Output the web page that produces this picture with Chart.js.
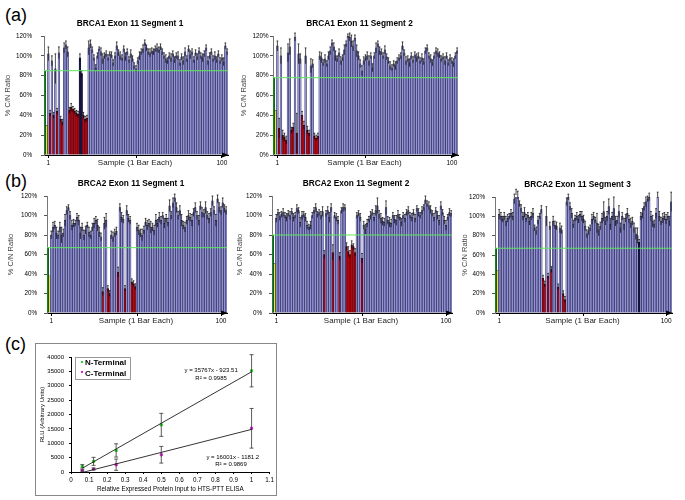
<!DOCTYPE html>
<html>
<head>
<meta charset="utf-8">
<script src="https://cdn.jsdelivr.net/npm/chart.js@4.4.0/dist/chart.umd.min.js"></script>
<style>
  body { margin: 0; background: #fff; width: 685px; height: 500px; position: relative; overflow: hidden;
         font-family: "Liberation Sans", Arial, sans-serif; }
  canvas { position: absolute; }
  .tag { position: absolute; font-size: 18px; line-height: 18px; color: #000; }
  #frameC { position: absolute; left: 35px; top: 343px; width: 240px; height: 151px; border: 1px solid #888; }
  #legendC { position: absolute; left: 75px; top: 357px; width: 54px; height: 21px; border: 1px solid #999;
             font-weight: bold; font-size: 8px; line-height: 10.5px; }
  #legendC .mk { display: inline-block; width: 2px; height: 2px; margin: 0 2px 2px 5px; vertical-align: middle; }
</style>
</head>
<body>
<div class="tag" style="left:5px;top:6px">(a)</div>
<div class="tag" style="left:5px;top:172px">(b)</div>
<div class="tag" style="left:5px;top:335px">(c)</div>

<canvas id="a1" width="232" height="160" style="left:0px;top:12px"></canvas>
<canvas id="a2" width="234" height="160" style="left:228px;top:12px"></canvas>
<canvas id="b1" width="229" height="158" style="left:2px;top:172px"></canvas>
<canvas id="b2" width="229" height="158" style="left:227px;top:172px"></canvas>
<canvas id="b3" width="226" height="157" style="left:450px;top:173px"></canvas>

<div id="frameC"></div>
<canvas id="c" width="240" height="151" style="left:36px;top:344px"></canvas>
<div id="legendC"></div>

<script>
// ---- panel (a)/(b) data: % C/N ratio per sample, samples 1..103 ----
const panelTitles = ['BRCA1 Exon 11 Segment 1', 'BRCA1 Exon 11 Segment 2',
                     'BRCA2 Exon 11 Segment 1', 'BRCA2 Exon 11 Segment 2', 'BRCA2 Exon 11 Segment 3'];
const wtControl = [85, 78, 67, 80, 67];    // green control bar, also the cut-off line
const mutControl = [30, 45, 38, 51, 44];   // yellow control bar

const a1Values = [
  102, 42, 95, 40, 87, 44, 103, 36, 33, 108,
  111, 104, 45, 48, 46, 44, 42, 41, 98, 82,
  40, 36, 37, 108, 112, 106, 98, 88, 100, 107,
  104, 97, 100, 102, 98, 102, 101, 93, 100, 110,
  103, 100, 98, 107, 99, 104, 96, 102, 97, 90,
  87, 95, 100, 104, 107, 113, 108, 104, 103, 105,
  104, 107, 108, 106, 109, 104, 100, 97, 95, 100,
  98, 102, 96, 100, 100, 93, 99, 95, 104, 97,
  107, 101, 104, 96, 103, 99, 105, 100, 98, 102,
  108, 95, 100, 104, 97, 100, 96, 102, 95, 98,
  94, 110, 104];
const a1Errors = [
  7, 3, 5, 3, 15, 3, 6, 3, 3, 5,
  4, 5, 3, 4, 3, 3, 3, 3, 4, 3,
  3, 3, 3, 7, 4, 3, 3, 3, 3, 2,
  4, 5, 3, 3, 3, 2, 3, 3, 3, 4,
  3, 4, 3, 3, 4, 3, 3, 4, 3, 3,
  3, 3, 4, 3, 4, 3, 3, 3, 4, 3,
  3, 3, 4, 3, 3, 3, 3, 4, 3, 3,
  4, 3, 3, 3, 4, 3, 3, 4, 4, 3,
  3, 4, 3, 3, 3, 3, 3, 3, 4, 3,
  3, 4, 3, 3, 3, 4, 3, 3, 3, 3,
  4, 3, 3];
const a1Truncated = [2, 4, 6, 8, 9, 13, 14, 15, 16, 17, 18, 21, 22, 23];
const a1Dark = [19, 20];

const a2Values = [
  110, 27, 100, 20, 18, 15, 103, 109, 25, 28,
  119, 22, 102, 97, 40, 30, 100, 25, 22, 90,
  92, 19, 17, 19, 100, 98, 93, 97, 92, 100,
  105, 113, 109, 100, 97, 103, 95, 98, 106, 112,
  120, 119, 115, 110, 118, 105, 100, 92, 85, 95,
  98, 100, 95, 100, 88, 100, 108, 112, 105, 104,
  100, 106, 99, 95, 90, 88, 92, 90, 95, 98,
  100, 110, 103, 95, 97, 93, 100, 96, 101, 98,
  100, 95, 98, 94, 105, 108, 100, 97, 93, 100,
  105, 103, 101, 97, 99, 95, 100, 93, 98, 95,
  93, 100, 105];
const a2Errors = [
  5, 10, 8, 5, 4, 4, 9, 8, 3, 4,
  4, 20, 10, 5, 4, 4, 8, 4, 3, 7,
  4, 3, 3, 3, 4, 5, 3, 4, 3, 4,
  4, 3, 4, 5, 3, 4, 4, 3, 5, 3,
  2, 4, 6, 5, 3, 6, 4, 4, 5, 4,
  3, 4, 5, 3, 4, 3, 5, 3, 4, 3,
  3, 4, 3, 3, 4, 3, 3, 4, 3, 3,
  3, 4, 3, 4, 3, 4, 3, 3, 3, 4,
  3, 3, 4, 3, 3, 3, 3, 4, 3, 3,
  3, 4, 3, 3, 3, 4, 3, 3, 3, 3,
  4, 3, 3];
const a2Truncated = [2, 4, 5, 6, 9, 10, 12, 15, 16, 18, 19, 22, 23, 24];
const a2Dark = [];

const b1Values = [
  80, 88, 90, 82, 80, 88, 80, 82, 95, 105,
  108, 100, 90, 92, 92, 98, 95, 82, 88, 80,
  85, 90, 83, 80, 88, 92, 95, 90, 83, 78,
  22, 92, 95, 25, 20, 80, 78, 82, 84, 42,
  108, 98, 96, 25, 105, 97, 95, 32, 30, 27,
  88, 85, 82, 80, 85, 93, 90, 92, 88, 88,
  85, 95, 92, 98, 95, 100, 92, 97, 93, 110,
  100, 113, 118, 108, 100, 105, 95, 90, 88, 95,
  100, 98, 95, 103, 108, 100, 95, 110, 103, 102,
  108, 100, 97, 103, 115, 105, 95, 117, 108, 105,
  113, 107, 105];
const b1Errors = [
  4, 5, 4, 6, 4, 5, 8, 4, 6, 4,
  3, 4, 5, 4, 3, 4, 5, 6, 4, 5,
  4, 3, 5, 4, 4, 5, 4, 6, 5, 4,
  4, 6, 7, 3, 3, 4, 5, 4, 4, 5,
  4, 5, 4, 3, 5, 4, 4, 3, 3, 3,
  4, 5, 4, 6, 4, 4, 5, 4, 6, 4,
  5, 6, 4, 5, 4, 3, 5, 4, 4, 6,
  4, 5, 4, 5, 4, 5, 6, 4, 5, 4,
  5, 4, 6, 4, 5, 4, 5, 4, 5, 4,
  6, 4, 5, 4, 5, 4, 6, 4, 5, 4,
  5, 4, 4];
const b1Truncated = [31, 34, 35, 40, 44, 48, 49, 50];
const b1Dark = [];

const b2Values = [
  97, 103, 99, 101, 103, 100, 98, 102, 100, 104,
  98, 100, 107, 105, 93, 100, 101, 98, 90, 88,
  90, 100, 105, 108, 101, 103, 100, 104, 60, 102,
  105, 98, 108, 62, 100, 98, 95, 58, 105, 108,
  108, 68, 63, 60, 70, 68, 62, 100, 102, 98,
  56, 90, 86, 92, 96, 100, 103, 98, 105, 110,
  101, 97, 94, 93, 108, 95, 93, 92, 100, 96,
  95, 101, 98, 93, 100, 97, 103, 105, 100, 98,
  103, 97, 107, 103, 100, 105, 108, 116, 112, 110,
  106, 102, 98, 105, 100, 95, 110, 103, 95, 90,
  98, 103, 102];
const b2Errors = [
  4, 3, 4, 3, 4, 3, 4, 3, 4, 3,
  4, 3, 4, 3, 5, 4, 3, 4, 4, 3,
  4, 3, 3, 4, 3, 3, 4, 5, 4, 3,
  4, 5, 4, 8, 3, 4, 4, 4, 3, 4,
  3, 4, 5, 4, 4, 3, 4, 3, 3, 4,
  5, 4, 5, 4, 3, 4, 3, 4, 5, 8,
  4, 5, 4, 4, 7, 4, 5, 4, 3, 4,
  5, 4, 3, 4, 3, 4, 3, 4, 3, 4,
  3, 4, 3, 4, 3, 4, 3, 4, 3, 4,
  4, 3, 4, 3, 4, 5, 4, 3, 4, 5,
  3, 4, 3];
const b2Truncated = [29, 34, 38, 42, 43, 44, 45, 46, 47, 51];
const b2Dark = [];

const b3Values = [
  102, 100, 97, 100, 95, 98, 100, 103, 100, 118,
  125, 122, 113, 108, 100, 104, 98, 101, 95, 100,
  103, 88, 85, 96, 100, 107, 36, 30, 100, 38,
  90, 45, 95, 91, 90, 27, 88, 86, 20, 14,
  115, 120, 110, 103, 92, 98, 100, 97, 102, 100,
  97, 90, 82, 85, 88, 97, 100, 96, 93, 86,
  90, 98, 105, 95, 100, 110, 92, 100, 108, 95,
  96, 105, 88, 100, 92, 98, 103, 97, 93, 95,
  88, 82, 80, 73, 100, 103, 110, 115, 118, 120,
  100, 95, 92, 103, 122, 100, 95, 98, 100, 97,
  100, 95, 115];
const b3Errors = [
  5, 4, 3, 4, 5, 4, 3, 4, 4, 5,
  3, 4, 3, 4, 4, 5, 4, 3, 4, 4,
  5, 3, 4, 4, 3, 4, 3, 3, 10, 3,
  4, 3, 5, 4, 4, 3, 5, 4, 3, 3,
  4, 3, 4, 5, 4, 3, 4, 4, 3, 5,
  4, 5, 4, 4, 3, 5, 4, 3, 10, 6,
  4, 5, 10, 4, 5, 8, 6, 4, 12, 5,
  4, 6, 5, 4, 6, 4, 5, 4, 5, 4,
  5, 6, 8, 3, 4, 5, 4, 5, 3, 4,
  5, 6, 4, 5, 3, 5, 4, 5, 4, 5,
  4, 5, 10];
const b3Truncated = [27, 28, 30, 32, 36, 39, 40];
const b3Dark = [84];

// ---- panel (c) data ----
const seriesNames = ['N-Terminal', 'C-Terminal'];
const inputLevels = [0.0625, 0.125, 0.25, 0.5, 1];
const nTermRLU = [1960, 3700, 7500, 16400, 35200];
const nTermErr = [600, 1400, 2300, 4000, 5600];
const cTermRLU = [520, 1040, 2540, 6000, 15200];
const cTermErr = [250, 350, 1950, 2900, 6900];
const nFit = { slope: 35767, intercept: -923.51, r2: '0.9985' };
const cFit = { slope: 16001, intercept: -1181.2, r2: '0.9869' };

const FONT = '"Liberation Sans", Arial, sans-serif';
Chart.defaults.font.family = FONT;
Chart.defaults.color = '#000';

const BLUE = '#9393d6', RED = '#c80000', NAVY = '#15153e', GREEN = '#139c13', YELLOW = '#eeee10';
const N_COLOR = '#22dd22', C_COLOR = '#dd22dd';

// error bars, cut-off line, axis arrow, panel title and x caption
const panelDeco = {
  id: 'panelDeco',
  afterDatasetsDraw(chart, args, opts) {
    const { ctx, chartArea: a } = chart;
    const y = chart.scales.y;
    const ds = chart.data.datasets[0];
    const meta = chart.getDatasetMeta(0);
    ctx.save();
    ctx.strokeStyle = '#000';
    ctx.lineWidth = 0.7;
    meta.data.forEach((bar, i) => {
      const e = ds.errors[i];
      if (!e) return;
      const v = ds.data[i];
      const yt = y.getPixelForValue(v + e);
      const yb = y.getPixelForValue(Math.max(0, v - e));
      ctx.beginPath();
      ctx.moveTo(bar.x, yb); ctx.lineTo(bar.x, yt);
      ctx.moveTo(bar.x - 0.9, yt); ctx.lineTo(bar.x + 0.9, yt);
      ctx.stroke();
    });

    const ty = y.getPixelForValue(opts.threshold);
    ctx.strokeStyle = '#5fe85f';
    ctx.lineWidth = 1;
    ctx.beginPath(); ctx.moveTo(a.left, ty); ctx.lineTo(a.right, ty); ctx.stroke();

    ctx.fillStyle = '#000';
    ctx.beginPath();
    ctx.moveTo(a.right - 6, a.bottom - 2.5);
    ctx.lineTo(a.right + 1, a.bottom);
    ctx.lineTo(a.right - 6, a.bottom + 2.5);
    ctx.closePath(); ctx.fill();

    const cx = (a.left + a.right) / 2;
    ctx.textAlign = 'center';
    ctx.textBaseline = 'middle';
    ctx.font = 'bold 8.3px ' + FONT;
    ctx.fillText(opts.title, cx - 6, a.top - 12);
    ctx.font = '8px ' + FONT;
    ctx.fillStyle = '#222';
    ctx.fillText('Sample (1 Bar Each)', cx - 1, a.bottom + 8);
    ctx.restore();
  }
};

function barPanel(id, k, values, errors, truncated, dark, yw, tickPad, titlePad) {
  const data = [wtControl[k], mutControl[k]].concat(values);
  const errs = [0, 0].concat(errors);
  const labels = data.map((_, i) => i >= 2 ? String(i - 1) : '');
  const colors = data.map((_, i) => {
    if (i === 0) return GREEN;
    if (i === 1) return YELLOW;
    if (truncated.includes(i - 1)) return RED;
    if (dark.includes(i - 1)) return NAVY;
    return BLUE;
  });
  const marks = ['1', '51', '100'];

  new Chart(document.getElementById(id), {
    type: 'bar',
    data: {
      labels: labels,
      datasets: [{
        data: data,
        errors: errs,
        backgroundColor: colors,
        borderColor: '#16163c',
        borderWidth: 0.5,
        barPercentage: 1,
        categoryPercentage: 1
      }]
    },
    options: {
      responsive: false,
      animation: false,
      layout: { padding: { top: 24, right: 4, bottom: 0, left: 0 } },
      plugins: {
        legend: { display: false },
        tooltip: { enabled: false },
        panelDeco: { title: panelTitles[k], threshold: wtControl[k] }
      },
      scales: {
        x: {
          afterFit: s => { s.height = 17; },
          border: { color: '#000', width: 1 },
          grid: {
            drawOnChartArea: false, offset: false, tickLength: 3,
            color: c => (c.tick && marks.includes(labels[c.index])) ? '#000' : 'rgba(0,0,0,0)'
          },
          ticks: {
            autoSkip: false, maxRotation: 0, padding: 1, font: { size: 6.5 },
            callback: function (v) {
              const l = this.getLabelForValue(v);
              return (l === '1' || l === '100') ? l : '';
            }
          }
        },
        y: {
          min: 0, max: 120,
          afterFit: s => { s.width = yw; },
          border: { color: '#777', width: 1 },
          grid: { drawOnChartArea: false, tickLength: 3, color: '#555' },
          ticks: { stepSize: 20, padding: tickPad, font: { size: 6.3 }, callback: v => v + '%' },
          title: { display: true, text: '% C/N Ratio', color: '#444', font: { size: 7.5 },
                   padding: { top: titlePad, bottom: 0 } }
        }
      }
    },
    plugins: [panelDeco]
  });
}

barPanel('a1', 0, a1Values, a1Errors, a1Truncated, a1Dark, 44, 9, 3);
barPanel('a2', 1, a2Values, a2Errors, a2Truncated, a2Dark, 45, 1.5, 11.5);
barPanel('b1', 2, b1Values, b1Errors, b1Truncated, b1Dark, 45, 7, 4.5);
barPanel('b2', 3, b2Values, b2Errors, b2Truncated, b2Dark, 45, 7, 8.5);
barPanel('b3', 4, b3Values, b3Errors, b3Truncated, b3Dark, 45, 7, 10.5);

// ---- panel (c) ----
const cDeco = {
  id: 'cDeco',
  afterDatasetsDraw(chart) {
    const { ctx } = chart;
    const { x, y } = chart.scales;
    ctx.save();
    ctx.strokeStyle = '#333';
    ctx.lineWidth = 0.8;
    chart.data.datasets.forEach((ds) => {
      if (!ds.errors) return;
      ds.data.forEach((p, i) => {
        const px = x.getPixelForValue(p.x);
        const yt = y.getPixelForValue(p.y + ds.errors[i]);
        const yb = y.getPixelForValue(p.y - ds.errors[i]);
        ctx.beginPath();
        ctx.moveTo(px, yb); ctx.lineTo(px, yt);
        ctx.moveTo(px - 2, yt); ctx.lineTo(px + 2, yt);
        ctx.moveTo(px - 2, yb); ctx.lineTo(px + 2, yb);
        ctx.stroke();
      });
    });
    ctx.fillStyle = '#000';
    ctx.textAlign = 'center';
    ctx.textBaseline = 'middle';
    ctx.font = '6px ' + FONT;
    const eq = f => 'y = ' + f.slope + 'x - ' + Math.abs(f.intercept);
    ctx.fillText(eq(nFit), x.getPixelForValue(0.776), y.getPixelForValue(35500));
    ctx.fillText('R\u00b2 = ' + nFit.r2, x.getPixelForValue(0.776), y.getPixelForValue(32700));
    ctx.fillText(eq(cFit), x.getPixelForValue(0.896), y.getPixelForValue(5200));
    ctx.fillText('R\u00b2 = ' + cFit.r2, x.getPixelForValue(0.886), y.getPixelForValue(2700));
    ctx.restore();
  }
};

const fitLine = f => [inputLevels[0], inputLevels[inputLevels.length - 1]]
  .map(v => ({ x: v, y: f.slope * v + f.intercept }));

new Chart(document.getElementById('c'), {
  type: 'scatter',
  data: {
    datasets: [
      { type: 'line', data: fitLine(nFit), borderColor: '#000', borderWidth: 0.8, pointRadius: 0 },
      { type: 'line', data: fitLine(cFit), borderColor: '#000', borderWidth: 0.8, pointRadius: 0 },
      { label: seriesNames[0], data: inputLevels.map((v, i) => ({ x: v, y: nTermRLU[i] })), errors: nTermErr,
        pointStyle: 'rect', pointRadius: 1.5, backgroundColor: N_COLOR, borderColor: N_COLOR },
      { label: seriesNames[1], data: inputLevels.map((v, i) => ({ x: v, y: cTermRLU[i] })), errors: cTermErr,
        pointStyle: 'rect', pointRadius: 1.5, backgroundColor: C_COLOR, borderColor: C_COLOR }
    ]
  },
  options: {
    responsive: false,
    animation: false,
    layout: { padding: { top: 13, right: 5, bottom: 0, left: 0 } },
    plugins: { legend: { display: false }, tooltip: { enabled: false } },
    scales: {
      x: {
        type: 'linear', min: 0, max: 1.1,
        afterFit: s => { s.height = 23; },
        border: { color: '#000' },
        grid: { drawOnChartArea: false, tickLength: 2, color: '#000' },
        ticks: { stepSize: 0.1, padding: 2, font: { size: 6.3 }, maxRotation: 0, autoSkip: false,
                 callback: v => String(Math.round(v * 10) / 10) },
        title: { display: true, text: 'Relative Expressed Protein Input to HTS-PTT ELISA', font: { size: 6.3 },
                 padding: { top: 0, bottom: 2.4 } }
      },
      y: {
        min: 0, max: 40000,
        afterFit: s => { s.width = 35; },
        border: { color: '#000' },
        grid: { drawOnChartArea: false, tickLength: 2, color: '#000' },
        ticks: { stepSize: 5000, padding: 5, font: { size: 6 }, callback: v => String(v) },
        title: { display: true, text: 'RLU (Arbitrary Units)', font: { size: 6 }, padding: { top: 3, bottom: 0 } }
      }
    }
  },
  plugins: [cDeco]
});

const legendC = document.getElementById('legendC');
[N_COLOR, C_COLOR].forEach((col, i) => {
  const row = document.createElement('div');
  row.innerHTML = '<span class="mk" style="background:' + col + '"></span>' + seriesNames[i];
  legendC.appendChild(row);
});
</script>
</body>
</html>
